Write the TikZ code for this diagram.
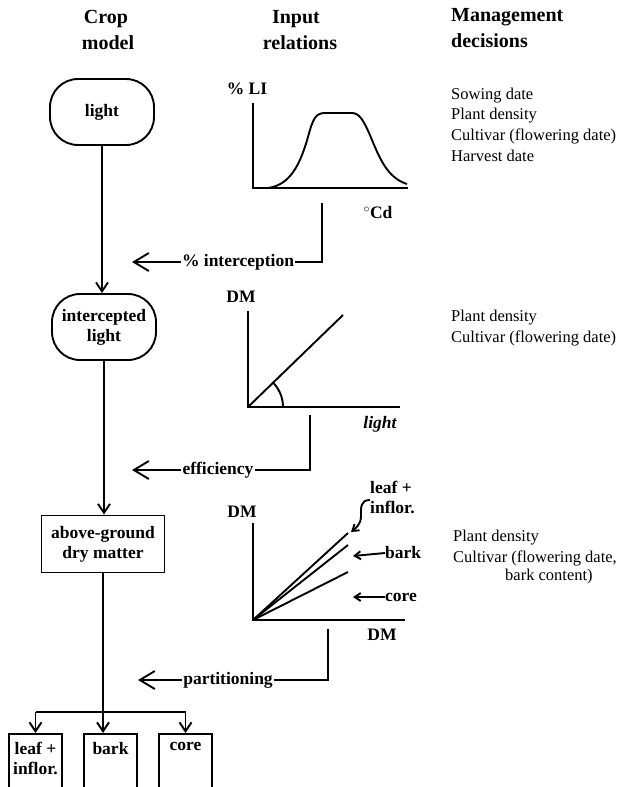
\documentclass[tikz,border=0pt]{standalone}
\usepackage{fontspec}
\setmainfont{Liberation Serif}
\usetikzlibrary{arrows.meta}
\begin{document}
\begin{tikzpicture}[x=1pt,y=-1pt,
  ln/.style={line width=1.9pt},
  lab/.style={font=\fontsize{17.5}{20}\selectfont\bfseries, inner sep=1pt},
  hdr/.style={font=\fontsize{20}{24}\selectfont\bfseries, inner sep=0pt},
  mgmt/.style={font=\fontsize{16.5}{20}\selectfont, inner sep=0pt, anchor=west},
  rbox/.style={draw, line width=1.9pt, rounded corners=28pt, minimum width=104pt, minimum height=66pt, align=center, font=\fontsize{17.5}{20}\selectfont\bfseries, inner sep=0pt},
  sbox/.style={draw, line width=1.9pt, align=center, font=\fontsize{17.5}{20}\selectfont\bfseries, inner sep=0pt},
  down/.style={line width=1.9pt, -{Straight Barb[length=9pt,width=12pt]}},
  big/.style={line width=1.9pt, -{Straight Barb[length=15pt,width=18pt]}},
  small/.style={line width=1.9pt, -{Straight Barb[length=6pt,width=8pt]}}
]
\clip (0,0) rectangle (625,787);
\fill[white] (0,0) rectangle (625,787);

% headers
\node[hdr] (h1a) at (106,19) {Crop};
\node[hdr] (h1b) at (108,43) {model};
\node[hdr] (h2a) at (296,19) {Input};
\node[hdr] (h2b) at (300,43) {relations};
\node[hdr, anchor=west] (h3a) at (451,17) {Management};
\node[hdr, anchor=west] (h3b) at (451,41) {decisions};

% crop model column
\node[rbox] (light) at (102,112) {light};
\node[rbox] (inter) at (104,327) {intercepted\\light};
\node[sbox, minimum width=123pt, minimum height=57pt] (above) at (103,544) {above-ground\\dry matter};

\node[sbox, minimum width=53pt, minimum height=70pt, anchor=north] (leaf) at (35.5,733) {};
\node[sbox, minimum width=53pt, minimum height=70pt, anchor=north] (bark) at (110.5,733) {};
\node[sbox, minimum width=53pt, minimum height=70pt, anchor=north] (core) at (185.5,733) {};
\node[lab, anchor=north, align=center, inner sep=0pt] (leaft) at ([yshift=-9pt]leaf.north) {leaf +\\inflor.};
\node[lab, anchor=north, inner sep=0pt] (barkt) at ([yshift=-9pt]bark.north) {bark};
\node[lab, anchor=north, inner sep=0pt] (coret) at ([yshift=-9pt]core.north) {core};

\draw[down] (light.south) -- (light.south |- inter.north);
\draw[down] (inter.south) -- (inter.south |- above.north);
\draw[down] (above.south) -- (above.south |- bark.north);
\coordinate (br) at (0,712);
\draw[ln] (leaf.north |- br) -- (core.north |- br);
\draw[down] (leaf.north |- br) -- (leaf.north);
\draw[down] (core.north |- br) -- (core.north);

% graph 1
\coordinate (g1o) at (253,188);
\coordinate (g1y) at (253,103);
\coordinate (g1x) at (408,188);
\draw[ln] (g1y) -- (g1o) -- (g1x);
\draw[ln] (268,188) .. controls (290,185) and (300,165) .. (308,137)
  .. controls (313,118) and (316,113) .. (325,113) -- (352,113)
  .. controls (360,113) and (364,122) .. (370,135)
  .. controls (380,160) and (388,178) .. (407,184);
\node[lab] (g1yl) at (247,89) {\% LI};
\node[lab] (g1xl) at (378,213) {$^{\circ}$Cd};
\coordinate (g1c) at (322,203);
\node[lab] (ic) at (238,262) {\% interception};
\coordinate (ia) at (132,262);
\draw[ln] (g1c) |- (ic.east);
\draw[big] (ic.west) -- (ia);

% graph 2
\coordinate (g2o) at (248,407);
\coordinate (g2y) at (248,311);
\coordinate (g2x) at (400,407);
\draw[ln] (g2y) -- (g2o) -- (g2x);
\draw[ln] (g2o) -- (343,315);
\draw[ln] (283,407) arc[start angle=0, end angle=-44, radius=35];
\node[lab] (g2yl) at (241,297) {DM};
\node[lab] (g2xl) at (380,424) {\itshape light};
\coordinate (g2c) at (310,415);
\node[lab] (ef) at (218,470) {efficiency};
\coordinate (ea) at (132,470);
\draw[ln] (g2c) |- (ef.east);
\draw[big] (ef.west) -- (ea);

% graph 3
\coordinate (g3o) at (253,620);
\coordinate (g3y) at (253,523);
\coordinate (g3x) at (405,620);
\draw[ln] (g3y) -- (g3o) -- (g3x);
\draw[ln] (g3o) -- (348,533);
\draw[ln] (g3o) -- (348,545);
\draw[ln] (g3o) -- (348,572);
\node[lab] (g3yl) at (242,512) {DM};
\node[lab] (g3xl) at (382,635) {DM};
\node[lab, anchor=west, align=left, inner sep=0pt] (lfl) at (370,497) {leaf +\\inflor.};
\node[lab, anchor=west, inner sep=0pt] (bkl) at (385,553) {bark};
\node[lab, anchor=west, inner sep=0pt] (crl) at (385,597) {core};
\draw[small] (lfl.west |- 0,500) .. controls (360,500) and (361,508) .. (361,516) .. controls (361,524) and (356,528) .. (351,532);
\draw[small] (bkl.west) -- ++(-32,3);
\draw[small] (crl.west) -- ++(-32,0);
\coordinate (g3c) at (328,629);
\node[lab] (pt) at (228,680) {partitioning};
\coordinate (pa) at (138,680);
\draw[ln] (g3c) |- (pt.east);
\draw[big] (pt.west) -- (pa);

% management decisions
\node[mgmt] (m1) at (451,96) {Sowing date};
\node[mgmt] (m2) at (451,116) {Plant density};
\node[mgmt] (m3) at (451,136) {Cultivar (flowering date)};
\node[mgmt] (m4) at (451,156) {Harvest date};
\node[mgmt] (m5) at (451,318) {Plant density};
\node[mgmt] (m6) at (451,338) {Cultivar (flowering date)};
\node[mgmt] (m7) at (453,538) {Plant density};
\node[mgmt] (m8) at (453,558) {Cultivar (flowering date,};
\node[mgmt] (m9) at (505,577) {bark content)};
\end{tikzpicture}
\end{document}
